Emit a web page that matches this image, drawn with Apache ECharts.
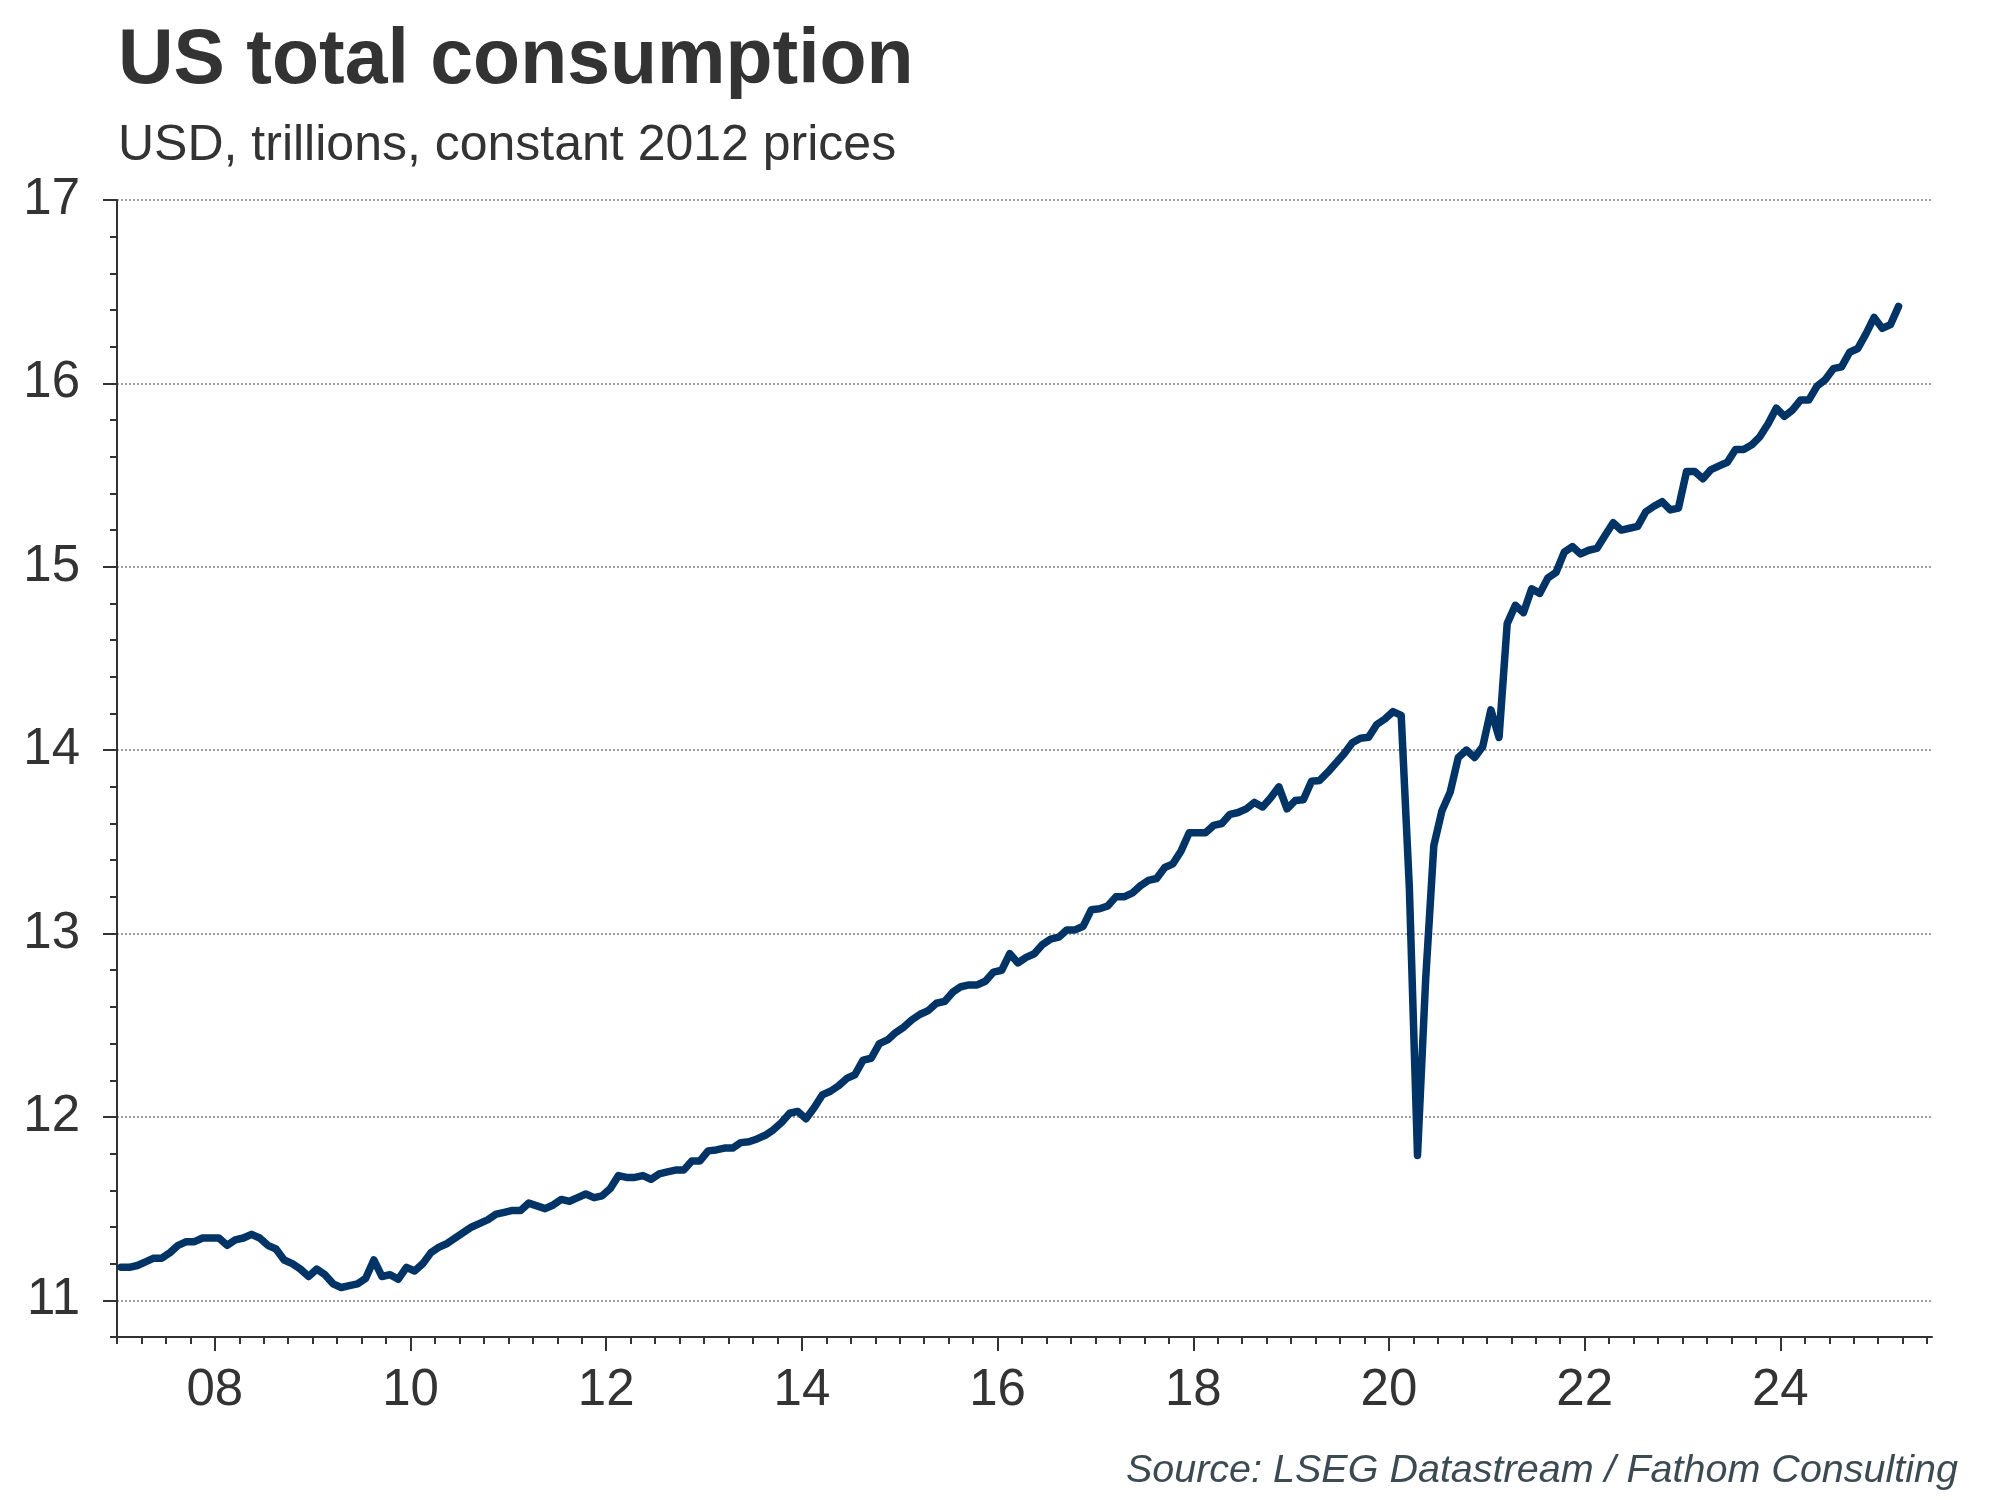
<!DOCTYPE html>
<html><head><meta charset="utf-8">
<script src="https://cdn.jsdelivr.net/npm/echarts@6/dist/echarts.min.js"></script>
<style>html,body{margin:0;padding:0;background:#fff}#c{width:2000px;height:1500px}</style>
</head><body><div id="c"></div>
<script>
const titleText = 'US total consumption';
const subtitleText = 'USD, trillions, constant 2012 prices';
const sourceText = 'Source: LSEG Datastream / Fathom Consulting';

// Monthly values, Jan 2007 - Mar 2025 (USD trillions, constant 2012 prices)
const values = [
  11.18, 11.18, 11.19, 11.21, 11.23, 11.23, 11.26, 11.30, 11.32, 11.32, 11.34, 11.34,
  11.34, 11.30, 11.33, 11.34, 11.36, 11.34, 11.30, 11.28, 11.22, 11.20, 11.17, 11.13,
  11.17, 11.14, 11.09, 11.07, 11.08, 11.09, 11.12, 11.22, 11.13, 11.14, 11.115, 11.18,
  11.16, 11.20, 11.26, 11.29, 11.31, 11.34, 11.37, 11.40, 11.42, 11.44, 11.47, 11.48,
  11.49, 11.49, 11.53, 11.515, 11.50, 11.52, 11.55, 11.54, 11.56, 11.58, 11.56, 11.57,
  11.61, 11.68, 11.67, 11.67, 11.68, 11.66, 11.69, 11.70, 11.71, 11.71, 11.76, 11.76,
  11.815, 11.82, 11.83, 11.83, 11.86, 11.865, 11.88, 11.90, 11.93, 11.97, 12.02, 12.03,
  11.99, 12.05, 12.12, 12.14, 12.17, 12.21, 12.23, 12.31, 12.32, 12.40, 12.42, 12.46,
  12.49, 12.53, 12.56, 12.58, 12.62, 12.63, 12.68, 12.71, 12.72, 12.72, 12.74, 12.79,
  12.80, 12.89, 12.84, 12.87, 12.89, 12.94, 12.97, 12.98, 13.02, 13.02, 13.04, 13.13,
  13.135, 13.15, 13.20, 13.20, 13.22, 13.26, 13.29, 13.30, 13.36, 13.38, 13.45, 13.55,
  13.55, 13.55, 13.59, 13.60, 13.65, 13.66, 13.68, 13.715, 13.69, 13.74, 13.80, 13.68,
  13.725, 13.73, 13.83, 13.835, 13.88, 13.93, 13.98, 14.04, 14.065, 14.07, 14.14, 14.17,
  14.21, 14.19, 13.25, 11.79, 12.75, 13.48, 13.67, 13.77, 13.96, 14.00, 13.96, 14.02,
  14.22, 14.07, 14.69, 14.79, 14.75, 14.88, 14.855, 14.94, 14.97, 15.08, 15.11, 15.07,
  15.09, 15.10, 15.17, 15.24, 15.20, 15.21, 15.22, 15.30, 15.33, 15.355, 15.31, 15.32,
  15.52, 15.52, 15.48, 15.53, 15.55, 15.57, 15.64, 15.64, 15.665, 15.71, 15.78, 15.865,
  15.82, 15.855, 15.91, 15.91, 15.985, 16.02, 16.08, 16.09, 16.17, 16.19, 16.27, 16.36,
  16.30, 16.32, 16.42
];

// Month categories matching the values
const months = [];
for (let y = 2007; y <= 2025; y++) {
  for (let m = 1; m <= 12; m++) months.push(y + '-' + String(m).padStart(2, '0'));
}
months.length = values.length;

const xLabelYears = [2008, 2010, 2012, 2014, 2016, 2018, 2020, 2022, 2024];
const yLabelValues = [11, 12, 13, 14, 15, 16, 17];
// quarterly minor tick positions on the time axis
const quarterTicks = [];
for (let q = 0; q <= 74; q++) quarterTicks.push(2007 + q * 0.25);

const FONT = '"Liberation Sans", Arial, Helvetica, sans-serif';
const AX = '#333333';

function monthToX(s) {
  const [y, m] = s.split('-').map(Number);
  return y + (m - 0.5) / 12;
}
const seriesData = months.map((mo, i) => [monthToX(mo), values[i]]);

const chart = echarts.init(document.getElementById('c'), null, {renderer: 'canvas'});
chart.setOption({
  backgroundColor: '#ffffff',
  animation: false,
  title: [
    {text: titleText, left: 118, top: 23, padding: 0,
     textStyle: {fontFamily: FONT, fontSize: 77, fontWeight: 'bold', color: '#333333'}},
    {text: subtitleText, left: 118, top: 121, padding: 0,
     textStyle: {fontFamily: FONT, fontSize: 50, fontWeight: 'normal', color: '#333333'}},
    {text: sourceText, right: 42, bottom: 9, padding: 0,
     textStyle: {fontFamily: FONT, fontSize: 39.5, fontStyle: 'italic', fontWeight: 'normal', color: '#3c4a52'}}
  ],
  grid: {left: 117, right: 68, top: 200, bottom: 163, containLabel: false},
  xAxis: [
    {type: 'value', min: 2007, max: 2025.55, interval: 0.25, position: 'bottom',
     axisLine: {show: true, lineStyle: {color: AX, width: 2}},
     axisTick: {show: true, length: 7, customValues: quarterTicks, lineStyle: {color: AX, width: 2}},
     axisLabel: {show: false}, splitLine: {show: false}},
    {type: 'value', min: 2007, max: 2025.55, interval: 0.25, position: 'bottom', offset: 0,
     axisLine: {show: false},
     axisTick: {show: true, length: 14, customValues: xLabelYears, lineStyle: {color: AX, width: 2}},
     axisLabel: {show: true, customValues: xLabelYears, formatter: v => String(v).slice(2),
                 fontFamily: FONT, fontSize: 51, color: AX, margin: 28},
     splitLine: {show: false}}
  ],
  yAxis: [
    {type: 'value', min: 10.8, max: 17, interval: 0.2, position: 'left',
     axisLine: {show: true, lineStyle: {color: AX, width: 2}},
     axisTick: {show: true, length: 14, customValues: yLabelValues, lineStyle: {color: AX, width: 2}},
     axisLabel: {show: true, customValues: yLabelValues, fontFamily: FONT, fontSize: 51, color: AX, margin: 37},
     splitLine: {show: true, lineStyle: {type: 'dotted', color: '#a0a0a0', width: 2}}},
    {type: 'value', min: 10.8, max: 17, interval: 0.2, position: 'left', offset: 0,
     axisLine: {show: false},
     axisTick: {show: true, length: 7, lineStyle: {color: AX, width: 2}},
     axisLabel: {show: false}, splitLine: {show: false}}
  ],
  series: [{
    type: 'line', xAxisIndex: 0, yAxisIndex: 0, data: seriesData,
    showSymbol: false, symbol: 'none',
    lineStyle: {color: '#003366', width: 7.5, join: 'round', cap: 'round'}
  }]
});
</script></body></html>
